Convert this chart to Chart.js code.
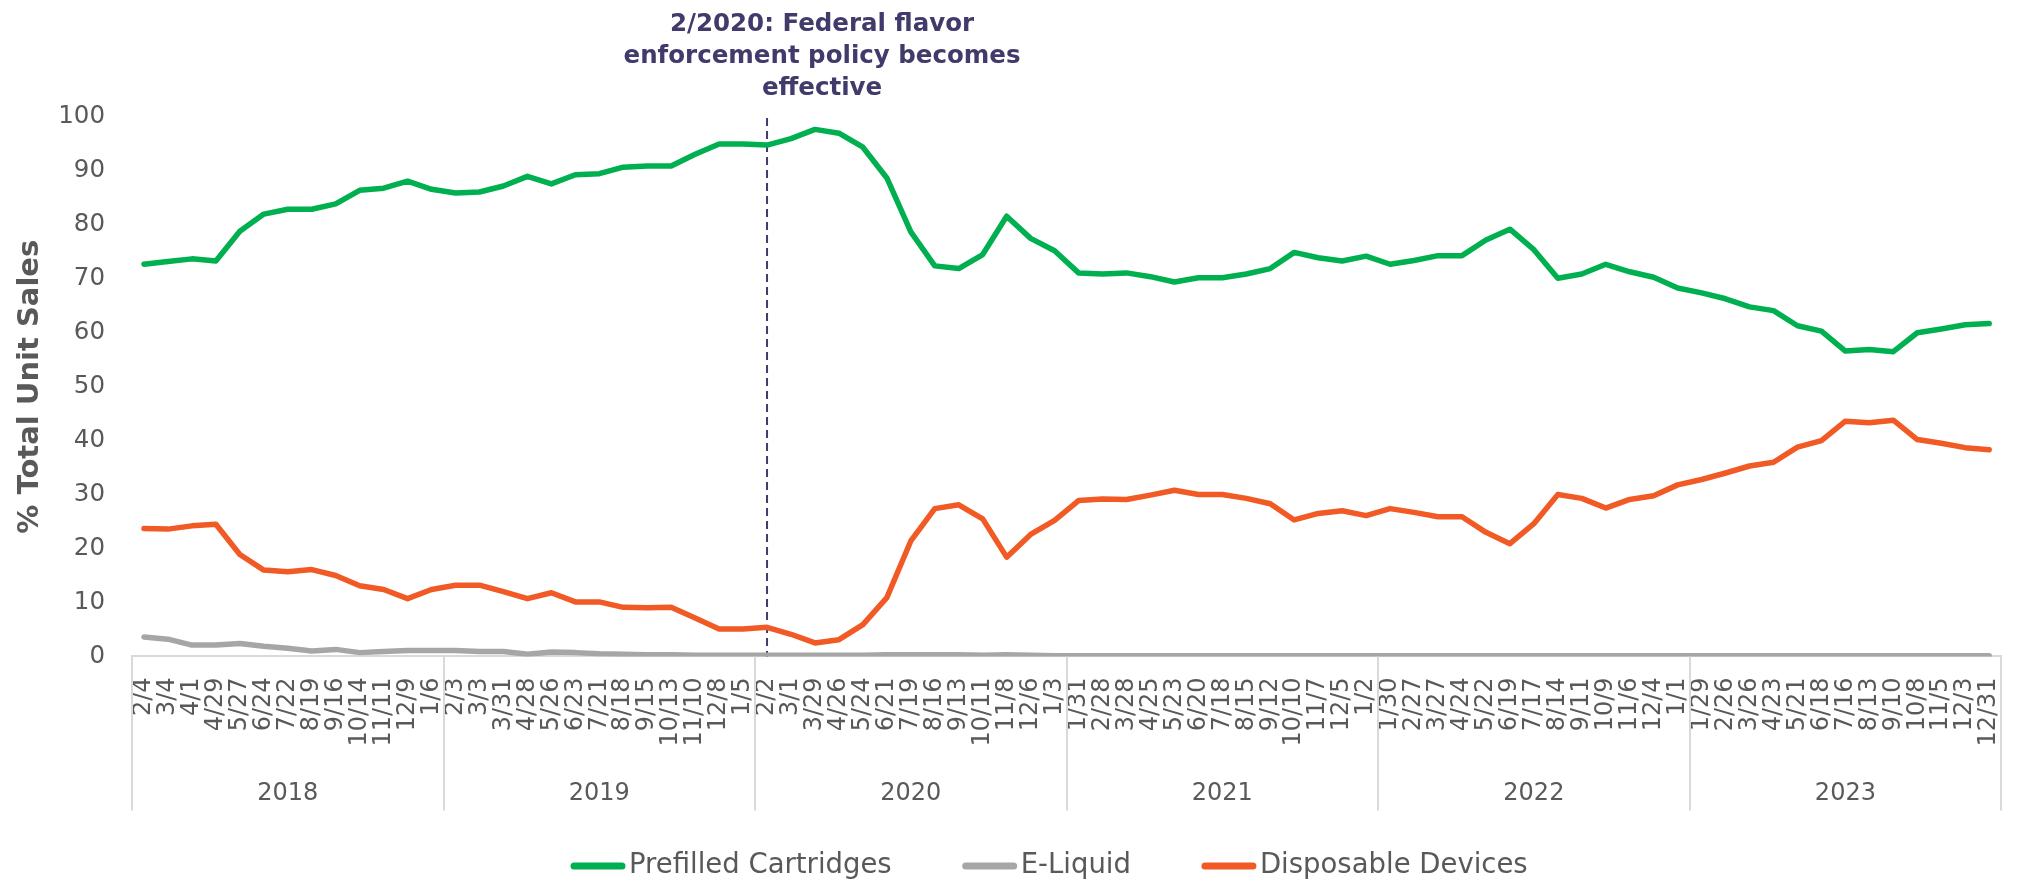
<!DOCTYPE html>
<html>
<head>
<meta charset="utf-8">
<title>Vape product type share of unit sales, 2018–2023</title>
<script src="https://cdn.jsdelivr.net/npm/chart.js@4.4.1/dist/chart.umd.min.js"></script>
<style>
  html, body { margin: 0; padding: 0; background: #ffffff; }
  #wrap { width: 2039px; height: 883px; position: relative; }
  canvas { display: block; }
</style>
</head>
<body>
<div id="wrap"><canvas id="chart" width="2039" height="883"></canvas></div>
<script>
// Four-week period ending dates, grouped by year (13 periods per year)
const categories = [
  '2/4','3/4','4/1','4/29','5/27','6/24','7/22','8/19','9/16','10/14','11/11','12/9','1/6',
  '2/3','3/3','3/31','4/28','5/26','6/23','7/21','8/18','9/15','10/13','11/10','12/8','1/5',
  '2/2','3/1','3/29','4/26','5/24','6/21','7/19','8/16','9/13','10/11','11/8','12/6','1/3',
  '1/31','2/28','3/28','4/25','5/23','6/20','7/18','8/15','9/12','10/10','11/7','12/5','1/2',
  '1/30','2/27','3/27','4/24','5/22','6/19','7/17','8/14','9/11','10/9','11/6','12/4','1/1',
  '1/29','2/26','3/26','4/23','5/21','6/18','7/16','8/13','9/10','10/8','11/5','12/3','12/31'
];
const years = ['2018','2019','2020','2021','2022','2023'];

// Share of total unit sales (%)
const prefilledCartridges = [
  72.7, 73.2, 73.7, 73.3, 78.8, 82.0, 82.9, 82.9, 83.9, 86.4, 86.8, 88.1, 86.6,
  85.9, 86.1, 87.2, 89.0, 87.6, 89.3, 89.5, 90.7, 90.9, 90.9, 93.1, 95.0, 95.0,
  94.8, 96.0, 97.7, 97.0, 94.4, 88.7, 78.7, 72.4, 71.9, 74.5, 81.6, 77.5, 75.2,
  71.1, 70.9, 71.1, 70.4, 69.4, 70.2, 70.2, 70.9, 71.9, 74.9, 73.9, 73.3, 74.2,
  72.7, 73.4, 74.3, 74.3, 77.2, 79.2, 75.4, 70.1, 70.9, 72.7, 71.3, 70.3, 68.3,
  67.4, 66.3, 64.8, 64.1, 61.3, 60.3, 56.6, 56.9, 56.5, 60.0, 60.7, 61.5, 61.7
];
const eLiquid = [
  3.6, 3.2, 2.1, 2.1, 2.4, 1.9, 1.5, 1.0, 1.3, 0.7, 0.9, 1.1, 1.1,
  1.1, 0.9, 0.9, 0.4, 0.8, 0.7, 0.5, 0.4, 0.3, 0.3, 0.2, 0.2, 0.2,
  0.2, 0.2, 0.2, 0.2, 0.2, 0.3, 0.3, 0.3, 0.3, 0.2, 0.3, 0.2, 0.1,
  0.1, 0.1, 0.1, 0.1, 0.1, 0.1, 0.1, 0.1, 0.1, 0.1, 0.1, 0.1, 0.1,
  0.1, 0.1, 0.1, 0.1, 0.1, 0.1, 0.1, 0.1, 0.1, 0.1, 0.1, 0.1, 0.1,
  0.1, 0.1, 0.1, 0.1, 0.1, 0.1, 0.1, 0.1, 0.1, 0.1, 0.1, 0.1, 0.1
];
const disposableDevices = [
  23.7, 23.6, 24.2, 24.5, 18.9, 16.0, 15.7, 16.1, 15.0, 13.1, 12.4, 10.7, 12.4,
  13.2, 13.2, 12.0, 10.7, 11.8, 10.1, 10.1, 9.1, 9.0, 9.1, 7.1, 5.1, 5.1,
  5.4, 4.1, 2.5, 3.1, 5.9, 10.9, 21.4, 27.4, 28.1, 25.5, 18.4, 22.6, 25.2,
  28.9, 29.2, 29.1, 29.9, 30.8, 30.0, 30.0, 29.3, 28.3, 25.3, 26.5, 27.0, 26.1,
  27.4, 26.7, 25.9, 25.9, 23.0, 20.9, 24.6, 30.0, 29.3, 27.5, 29.1, 29.8, 31.8,
  32.8, 34.0, 35.3, 36.0, 38.8, 40.0, 43.6, 43.3, 43.8, 40.2, 39.5, 38.7, 38.3
];
const yTicks = [0, 10, 20, 30, 40, 50, 60, 70, 80, 90, 100];

// Period in which the federal flavor enforcement policy took effect
const policyYear = '2020';
const policyLabel = '2/2';
const noteLines = ['2/2020: Federal flavor', 'enforcement policy becomes', 'effective'];

const FONT = "'DejaVu Sans', Verdana, sans-serif";
const TEXT = '#595959';
const NOTE = '#403b6b';
const AXIS = '#d9d9d9';

const perYear = categories.length / years.length;
const policyIndex = years.indexOf(policyYear) * perYear
  + categories.slice(years.indexOf(policyYear) * perYear,
                     (years.indexOf(policyYear) + 1) * perYear).indexOf(policyLabel);

const decor = {
  id: 'decor',
  beforeDatasetsDraw(chart) {
    const { ctx, chartArea, scales: { x } } = chart;
    const px = x.getPixelForValue(policyIndex);
    ctx.save();
    ctx.strokeStyle = NOTE;
    ctx.lineWidth = 2;
    ctx.setLineDash([8, 5]);
    ctx.beginPath();
    ctx.moveTo(px, 118);
    ctx.lineTo(px, chartArea.bottom);
    ctx.stroke();
    ctx.restore();
  },
  afterDraw(chart) {
    const { ctx, chartArea, scales: { x } } = chart;
    const top = chartArea.bottom;
    const lineBottom = top + 154;

    // year grouping band under the period labels
    const edges = [];
    for (let g = 0; g <= years.length; g++) {
      if (g === 0) edges.push(chartArea.left);
      else if (g === years.length) edges.push(chartArea.right);
      else edges.push((x.getPixelForValue(g * perYear - 1) + x.getPixelForValue(g * perYear)) / 2);
    }
    ctx.save();
    ctx.strokeStyle = AXIS;
    ctx.lineWidth = 2;
    edges.forEach(e => {
      ctx.beginPath();
      ctx.moveTo(Math.round(e), top);
      ctx.lineTo(Math.round(e), lineBottom);
      ctx.stroke();
    });
    ctx.fillStyle = TEXT;
    ctx.font = '24px ' + FONT;
    ctx.textAlign = 'center';
    ctx.textBaseline = 'middle';
    years.forEach((yr, g) => {
      ctx.fillText(yr, (edges[g] + edges[g + 1]) / 2, top + 137);
    });

    // policy note above the dashed marker
    const px = x.getPixelForValue(policyIndex);
    ctx.fillStyle = NOTE;
    ctx.font = 'bold 24.5px ' + FONT;
    ctx.textBaseline = 'alphabetic';
    noteLines.forEach((t, i) => ctx.fillText(t, px + 55, 31 + i * 32));

    // legend
    ctx.font = '27.5px ' + FONT;
    ctx.textAlign = 'left';
    ctx.textBaseline = 'middle';
    const ly = 866;
    let lx = 570;
    chart.data.datasets.forEach(ds => {
      ctx.strokeStyle = ds.borderColor;
      ctx.lineWidth = 7;
      ctx.lineCap = 'round';
      ctx.beginPath();
      ctx.moveTo(lx + 4, ly);
      ctx.lineTo(lx + 52, ly);
      ctx.stroke();
      ctx.fillStyle = TEXT;
      ctx.fillText(ds.label, lx + 59, ly);
      lx += 59 + ctx.measureText(ds.label).width + 70;
    });
    ctx.restore();
  }
};

const lineStyle = { borderWidth: 5.5, pointRadius: 0, pointHoverRadius: 0, tension: 0,
  borderJoinStyle: 'round', borderCapStyle: 'round', fill: false };

new Chart(document.getElementById('chart'), {
  type: 'line',
  data: {
    labels: categories,
    datasets: [
      Object.assign({ label: 'Prefilled Cartridges', data: prefilledCartridges,
        borderColor: '#00b050', backgroundColor: '#00b050' }, lineStyle),
      Object.assign({ label: 'E-Liquid', data: eLiquid,
        borderColor: '#a6a6a6', backgroundColor: '#a6a6a6' }, lineStyle),
      Object.assign({ label: 'Disposable Devices', data: disposableDevices,
        borderColor: '#f15a24', backgroundColor: '#f15a24' }, lineStyle)
    ]
  },
  options: {
    responsive: false,
    animation: false,
    events: [],
    layout: { padding: { top: 117, right: 3, bottom: 0, left: 0 } },
    plugins: {
      legend: { display: false },
      title: { display: false },
      tooltip: { enabled: false }
    },
    scales: {
      x: {
        type: 'category',
        offset: true,
        grid: { display: false, drawTicks: false },
        border: { display: true, color: AXIS, width: 2 },
        ticks: {
          autoSkip: false,
          minRotation: 90,
          maxRotation: 90,
          padding: 21,
          color: TEXT,
          font: { family: FONT, size: 24 }
        },
        afterFit(scale) { scale.height = 226.6; }
      },
      y: {
        min: 0,
        max: 100,
        grid: { display: false, drawTicks: false },
        border: { display: false },
        afterBuildTicks(scale) { scale.ticks = yTicks.map(v => ({ value: v })); },
        ticks: {
          padding: 27,
          color: TEXT,
          font: { family: FONT, size: 24.5 }
        },
        title: {
          display: true,
          text: '% Total Unit Sales',
          color: TEXT,
          font: { family: FONT, size: 29, weight: 'bold' },
          padding: { top: 13, bottom: 0 }
        },
        afterFit(scale) { scale.width = 132; }
      }
    }
  },
  plugins: [decor]
});
</script>
</body>
</html>
